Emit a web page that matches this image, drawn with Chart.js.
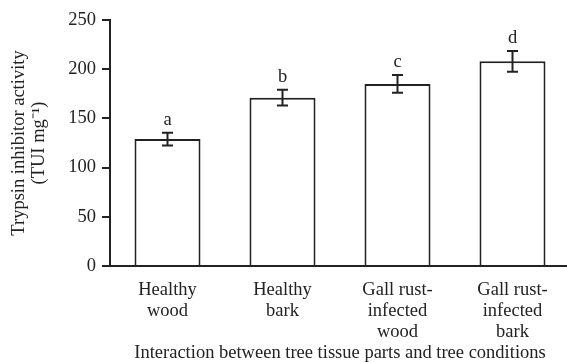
<!DOCTYPE html>
<html>
<head>
<meta charset="utf-8">
<script src="https://cdn.jsdelivr.net/npm/chart.js@4"></script>
<style>
  html, body { margin: 0; padding: 0; background: #fff; overflow: hidden; }
  #wrap { width: 572px; height: 362px; }
</style>
</head>
<body>
<div id="wrap"><canvas id="chart"></canvas></div>
<script>
const categories = [
    ['Healthy', 'wood'],
    ['Healthy', 'bark'],
    ['Gall rust-', 'infected', 'wood'],
    ['Gall rust-', 'infected', 'bark']
];
const activity = [129, 171, 185, 208];
const errors = [6.5, 8, 9, 10.5];
const letters = ['a', 'b', 'c', 'd'];
const yTicks = [0, 50, 100, 150, 200, 250];

const ink = '#222';
const serif = '"Liberation Serif", "Times New Roman", serif';
const fs = 18.5;

// error bars and significance letters, placed through the scales
const errorBars = {
    id: 'errorBars',
    afterDatasetsDraw(chart) {
        const ctx = chart.ctx;
        const y = chart.scales.y;
        const meta = chart.getDatasetMeta(0);
        ctx.save();
        ctx.strokeStyle = ink;
        ctx.lineWidth = 2;
        ctx.fillStyle = ink;
        ctx.font = fs + 'px ' + serif;
        ctx.textAlign = 'center';
        ctx.textBaseline = 'alphabetic';
        meta.data.forEach((bar, i) => {
            const x = bar.x;
            const hi = y.getPixelForValue(activity[i] + errors[i]);
            const lo = y.getPixelForValue(activity[i] - errors[i]);
            ctx.beginPath();
            ctx.moveTo(x, hi); ctx.lineTo(x, lo);
            ctx.moveTo(x - 5.5, hi); ctx.lineTo(x + 5.5, hi);
            ctx.moveTo(x - 5.5, lo); ctx.lineTo(x + 5.5, lo);
            ctx.stroke();
            ctx.fillText(letters[i], x, hi - 8);
        });
        ctx.restore();
    }
};

const ctx = document.getElementById('chart').getContext('2d');
new Chart(ctx, {
    type: 'bar',
    data: {
        labels: categories,
        datasets: [{
            data: activity,
            backgroundColor: '#fff',
            borderColor: ink,
            borderWidth: 2,
            categoryPercentage: 1,
            barPercentage: 0.574
        }]
    },
    options: {
        responsive: true,
        maintainAspectRatio: false,
        animation: false,
        layout: { padding: { top: 20, right: 2, left: 0, bottom: 0 } },
        plugins: {
            legend: { display: false },
            tooltip: { enabled: false }
        },
        scales: {
            x: {
                afterFit(scale) {
                    scale.height = 96;
                },
                grid: { drawOnChartArea: false, drawTicks: false },
                border: { color: ink, width: 2 },
                ticks: {
                    color: ink,
                    padding: 14,
                    maxRotation: 0,
                    font: { family: serif, size: fs, lineHeight: 1.12 }
                },
                title: {
                    display: true,
                    text: 'Interaction between tree tissue parts and tree conditions',
                    color: ink,
                    padding: { top: 0, bottom: 0 },
                    font: { family: serif, size: fs, lineHeight: 1.0 }
                }
            },
            y: {
                min: 0,
                max: 250,
                afterBuildTicks(scale) {
                    scale.ticks = yTicks.map(v => ({ value: v }));
                },
                afterFit(scale) {
                    scale.width = 110;
                },
                grid: { drawOnChartArea: false, drawTicks: true, tickLength: 8, color: ink, lineWidth: 2 },
                border: { color: ink, width: 2 },
                ticks: {
                    color: ink,
                    padding: 6,
                    font: { family: serif, size: fs }
                },
                title: {
                    display: true,
                    text: ['Trypsin inhibitor activity', '(TUI mg\u207B\u00B9)'],
                    color: ink,
                    padding: { top: 9, bottom: 2 },
                    font: { family: serif, size: fs, lineHeight: 1.1 }
                }
            }
        }
    },
    plugins: [errorBars]
});
</script>
</body>
</html>
